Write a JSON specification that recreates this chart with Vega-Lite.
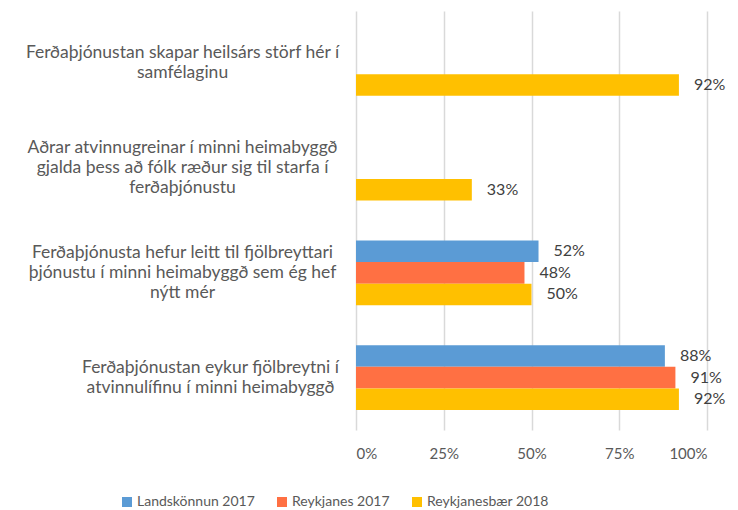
{
  "$schema": "https://vega.github.io/schema/vega-lite/v6.json",
  "width": 351,
  "height": 419,
  "autosize": {"type": "none"},
  "padding": {"left": 356, "top": 11, "right": 31, "bottom": 80},
  "background": "white",
  "config": {
    "font": "Lato",
    "view": {"stroke": null},
    "axis": {"labelFont": "Lato", "labelColor": "#595959"},
    "legend": {"labelFont": "Lato"}
  },
  "data": {
    "values": [
      {"cat": "Ferðaþjónustan skapar heilsárs störf hér í|samfélaginu", "series": "Reykjanesbær 2018", "value": 0.92},
      {"cat": "Aðrar atvinnugreinar í minni heimabyggð|gjalda þess að fólk ræður sig til starfa í|ferðaþjónustu", "series": "Reykjanesbær 2018", "value": 0.33},
      {"cat": "Ferðaþjónusta hefur leitt til fjölbreyttari|þjónustu í minni heimabyggð sem ég hef|nýtt mér", "series": "Landskönnun 2017", "value": 0.52},
      {"cat": "Ferðaþjónusta hefur leitt til fjölbreyttari|þjónustu í minni heimabyggð sem ég hef|nýtt mér", "series": "Reykjanes 2017", "value": 0.48},
      {"cat": "Ferðaþjónusta hefur leitt til fjölbreyttari|þjónustu í minni heimabyggð sem ég hef|nýtt mér", "series": "Reykjanesbær 2018", "value": 0.50},
      {"cat": "Ferðaþjónustan eykur fjölbreytni í|atvinnulífinu í minni heimabyggð", "series": "Landskönnun 2017", "value": 0.88},
      {"cat": "Ferðaþjónustan eykur fjölbreytni í|atvinnulífinu í minni heimabyggð", "series": "Reykjanes 2017", "value": 0.91},
      {"cat": "Ferðaþjónustan eykur fjölbreytni í|atvinnulífinu í minni heimabyggð", "series": "Reykjanesbær 2018", "value": 0.92}
    ]
  },
  "encoding": {
    "y": {
      "field": "cat",
      "type": "nominal",
      "sort": [
        "Ferðaþjónustan skapar heilsárs störf hér í|samfélaginu",
        "Aðrar atvinnugreinar í minni heimabyggð|gjalda þess að fólk ræður sig til starfa í|ferðaþjónustu",
        "Ferðaþjónusta hefur leitt til fjölbreyttari|þjónustu í minni heimabyggð sem ég hef|nýtt mér",
        "Ferðaþjónustan eykur fjölbreytni í|atvinnulífinu í minni heimabyggð"
      ],
      "scale": {"paddingInner": 0.384, "paddingOuter": 0.192},
      "axis": {
        "title": null,
        "domain": false,
        "ticks": false,
        "labelAlign": "center",
        "labelBaseline": "middle",
        "labelPadding": {"expr": "indexof(datum.value, 'eykur') >= 0 ? 146 : 174"},
        "labelOffset": {"expr": "-(length(split(datum.value, '|')) - 1) * 10"},
        "labelLimit": 0,
        "labelFontSize": 17.5,
        "labelLineHeight": 20,
        "labelExpr": "split(datum.label, '|')"
      }
    },
    "yOffset": {
      "field": "series",
      "type": "nominal",
      "sort": ["Landskönnun 2017", "Reykjanes 2017", "Reykjanesbær 2018"],
      "scale": {"domain": ["Landskönnun 2017", "Reykjanes 2017", "Reykjanesbær 2018"], "paddingInner": 0, "paddingOuter": 0}
    },
    "x": {
      "field": "value",
      "type": "quantitative",
      "scale": {"domain": [0, 1], "nice": false},
      "axis": {
        "title": null,
        "format": ".0%",
        "values": [0, 0.25, 0.5, 0.75, 1],
        "domain": false,
        "ticks": false,
        "labelPadding": 16,
        "labelFontSize": 15,
        "grid": true,
        "gridColor": "#d9d9d9",
        "gridWidth": 1.5
      }
    }
  },
  "layer": [
    {
      "mark": {"type": "bar"},
      "encoding": {
        "color": {
          "field": "series",
          "type": "nominal",
          "scale": {
            "domain": ["Landskönnun 2017", "Reykjanes 2017", "Reykjanesbær 2018"],
            "range": ["#5B9BD5", "#FF7043", "#FFC000"]
          },
          "legend": {
            "title": null,
            "orient": "none",
            "direction": "horizontal",
            "legendX": -236,
            "legendY": 484,
            "symbolType": "square",
            "symbolSize": 100,
            "symbolStrokeWidth": 0,
            "labelFontSize": 14,
            "labelColor": "#595959",
            "labelOffset": 3,
            "columnPadding": 20,
            "labelLimit": 0
          }
        }
      }
    },
    {
      "mark": {"type": "text", "align": "left", "baseline": "middle", "dx": 15, "fontSize": 16, "color": "#404040"},
      "encoding": {
        "text": {"field": "value", "type": "quantitative", "format": ".0%"}
      }
    }
  ]
}
